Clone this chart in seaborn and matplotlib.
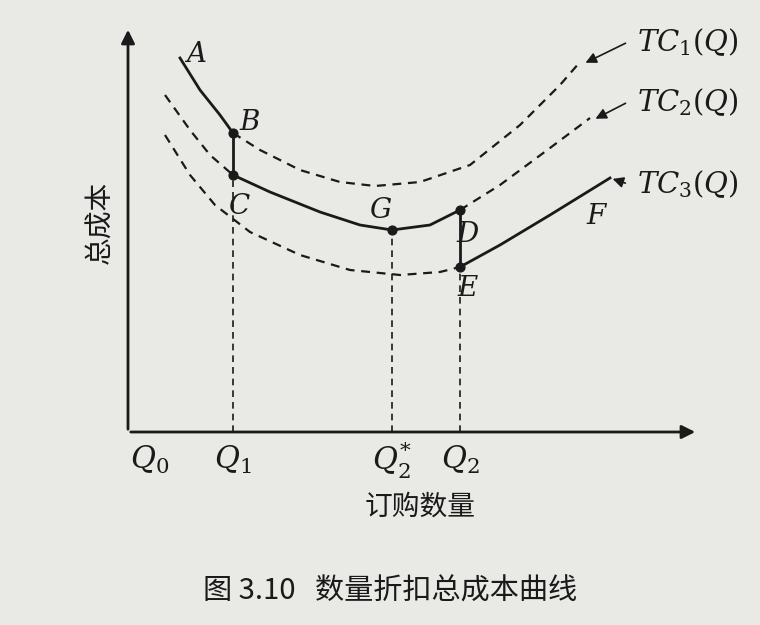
import matplotlib
matplotlib.use("Agg")
import matplotlib.pyplot as plt
import seaborn as sns
import pandas as pd

plt.rcParams["font.family"] = ["Noto Sans CJK SC"]
plt.rcParams["mathtext.fontset"] = "dejavuserif"

# Curve points (order quantity, total cost)
tc1_q = [52, 72, 92, 105, 132, 172, 212, 247, 292, 342, 392, 432, 452]
tc1_c = [374, 342, 317, 299, 282, 262, 250, 246, 250, 267, 307, 347, 370]
tc2_q = [37, 62, 82, 105, 142, 192, 232, 264, 302, 332, 372, 422, 462]
tc2_c = [337, 302, 277, 257, 240, 220, 207, 202, 207, 222, 247, 284, 314]
tc3_q = [37, 62, 87, 122, 172, 222, 272, 312, 332, 372, 422, 482]
tc3_c = [297, 257, 227, 200, 177, 162, 157, 160, 165, 187, 217, 254]

q1, q2s, q2 = 105, 264, 332
ink = "#1a1a1a"

fig = plt.figure(figsize=(7.6, 6.25), dpi=100, facecolor="#e9e9e6")
ax = fig.add_axes([0, 0, 1, 1])
ax.set_facecolor("#e9e9e6")
ax.set_xlim(-128, 632)
ax.set_ylim(-193, 432)
ax.axis("off")

def seg(qs, cs, lo, hi, style):
    d = pd.DataFrame({"q": qs, "c": cs})
    d = d[(d.q >= lo) & (d.q <= hi)]
    sns.lineplot(data=d, x="q", y="c", ax=ax, color=ink, lw=2 if style == "-" else 1.6,
                 linestyle=style, sort=False, estimator=None)

seg(tc1_q, tc1_c, 0, q1, "-")
seg(tc1_q, tc1_c, q1, 999, (0, (4, 3)))
seg(tc2_q, tc2_c, 0, q1, (0, (4, 3)))
seg(tc2_q, tc2_c, q1, q2, "-")
seg(tc2_q, tc2_c, q2, 999, (0, (4, 3)))
seg(tc3_q, tc3_c, 0, q2, (0, (4, 3)))
seg(tc3_q, tc3_c, q2, 999, "-")

# jumps at breakpoints
ax.plot([q1, q1], [299, 257], color=ink, lw=2)
ax.plot([q2, q2], [222, 165], color=ink, lw=2)
# guide lines
for x, top in [(q1, 257), (q2s, 202), (q2, 165)]:
    ax.plot([x, x], [0, top], color=ink, lw=1.2, ls=(0, (4, 3)))
ax.scatter([q1, q1, q2s, q2, q2], [299, 257, 202, 222, 165], s=40, color=ink, zorder=5)

# axes with arrows
ax.annotate("", xy=(570, 0), xytext=(0, 0),
            arrowprops=dict(arrowstyle="-|>", color=ink, lw=2, mutation_scale=20))
ax.annotate("", xy=(0, 405), xytext=(0, 0),
            arrowprops=dict(arrowstyle="-|>", color=ink, lw=2, mutation_scale=20))

lab = dict(fontsize=20, style="italic", family="DejaVu Serif", color=ink)
for t, x, y in [("A", 68, 378), ("B", 122, 310), ("C", 112, 226), ("G", 252, 222),
                ("D", 340, 198), ("E", 340, 143), ("F", 468, 215)]:
    ax.text(x, y, t, ha="center", va="center", **lab)

for t, x, y, ex, ey in [(r"$TC_1(Q)$", 560, 390, 455, 368),
                        (r"$TC_2(Q)$", 560, 330, 465, 312),
                        (r"$TC_3(Q)$", 560, 248, 482, 254)]:
    ax.text(x, y, t, ha="center", va="center", fontsize=21, color=ink)
    ax.annotate("", xy=(ex, ey), xytext=(x - 60, y),
                arrowprops=dict(arrowstyle="-|>", color=ink, lw=1.2, mutation_scale=16))

for t, x in [(r"$Q_0$", 22), (r"$Q_1$", q1), (r"$Q_2^{*}$", q2s), (r"$Q_2$", q2)]:
    ax.text(x, -28, t, ha="center", va="center", fontsize=22, color=ink)

ax.text(-28, 210, "总成本", rotation=90, ha="center", va="center", fontsize=20, color=ink)
ax.text(292, -75, "订购数量", ha="center", va="center", fontsize=20, color=ink)
ax.text(262, -160, "图 3.10   数量折扣总成本曲线", ha="center", va="center", fontsize=21, color=ink)

fig.savefig("out.png", dpi=100, facecolor=fig.get_facecolor())
